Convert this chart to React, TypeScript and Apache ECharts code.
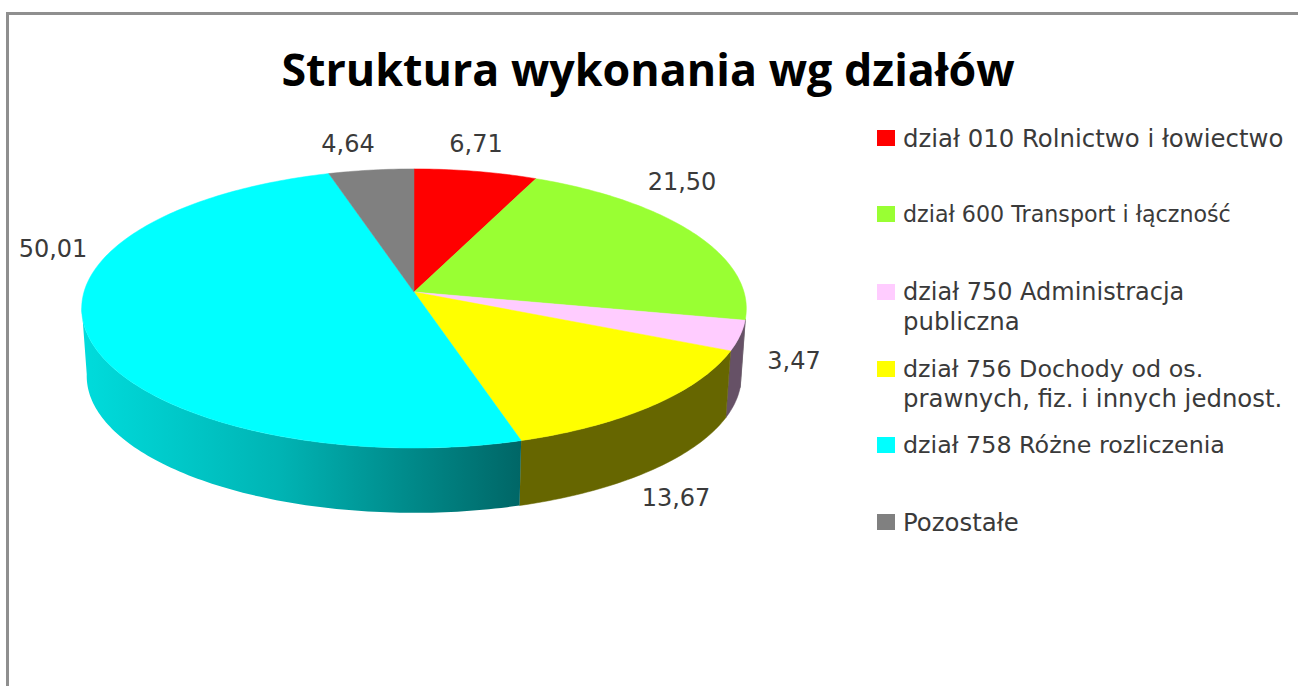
import React, { useEffect, useRef } from "react";
import * as echarts from "echarts";

const titleText = "Struktura wykonania wg działów";
const categories = [
  "dział 010 Rolnictwo i łowiectwo",
  "dział 600 Transport i łączność",
  "dział 750 Administracja",
  "dział 756 Dochody od os.",
  "dział 758 Różne rozliczenia",
  "Pozostałe",
];
const secondLines = ["", "", "publiczna", "prawnych, fiz. i innych jednost.", "", ""];
const values = [6.71, 21.5, 3.47, 13.67, 50.01, 4.64];
const topColors = ["#ff0000", "#99ff33", "#ffccff", "#ffff00", "#00ffff", "#808080"];

const FONT = "DejaVu Sans";
const TEXT_COLOR = "#3a3a3a";
const LEGEND_SIZE = 24.4;
const legendSizes = [24.4, 22.2, 24, 23.8, 23.8, 24.4];
const CX = 414;
const K = 0.118;
const topRim = { a: 330, b: 137.6, apexY: 292 };
const lowRim = { a: 325, b: 134.8, apexY: 360 };
const VISIBLE_FROM = 101;
const VISIBLE_TO = 264;
const labelAnchors = [
  [476, 144],
  [682, 182],
  [794, 361],
  [676, 498],
  [53, 249],
  [348, 144],
];
const legendCenters = [136, 213, 290, 367, 443, 520];
const LEGEND_LINE = 31;

const total = values.reduce((s, v) => s + v, 0);

function rimPoint(deg: number, rim: { a: number; b: number; apexY: number }) {
  const t = (deg * Math.PI) / 180;
  const s = Math.sin(t);
  const c = Math.cos(t);
  const d = 1 + K * c;
  return [CX + (rim.a * s) / d, rim.apexY - (rim.b * c) / d];
}

function arc(from: number, to: number, rim: { a: number; b: number; apexY: number }) {
  const pts: number[][] = [];
  const n = Math.max(2, Math.ceil(Math.abs(to - from)));
  for (let i = 0; i <= n; i++) pts.push(rimPoint(from + ((to - from) * i) / n, rim));
  return pts;
}

function sideFill(index: number): any {
  if (index === 4) {
    return new echarts.graphic.LinearGradient(0, 0, 1, 0, [
      { offset: 0, color: "#00dcdc" },
      { offset: 0.45, color: "#00b4b4" },
      { offset: 1, color: "#006666" },
    ]);
  }
  if (index === 3) return "#666600";
  if (index === 2) return "#665166";
  return "#666666";
}

const renderSlice = (params: any, api: any) => {
  const i = params.seriesIndex;
  const value = api.value(0);
  let before = 0;
  for (let j = 0; j < i; j++) before += values[j];
  const start = (before / total) * 360;
  const end = start + (value / total) * 360;
  const children: any[] = [];
  const a0 = Math.max(start, VISIBLE_FROM);
  const a1 = Math.min(end, VISIBLE_TO);
  if (a1 > a0) {
    const fill = sideFill(i);
    children.push({
      type: "polygon",
      z2: 1,
      shape: { points: [...arc(a0, a1, topRim), ...arc(a1, a0, lowRim)] },
      style: { fill, stroke: typeof fill === "string" ? fill : "none", lineWidth: 0.5 },
    });
  }
  children.push({
    type: "polygon",
    z2: 5,
    shape: { points: [[CX, topRim.apexY], ...arc(start, end, topRim)] },
    style: { fill: topColors[i], stroke: topColors[i], lineWidth: 0.5 },
  });
  children.push({
    type: "text",
    z2: 10,
    x: labelAnchors[i][0],
    y: labelAnchors[i][1],
    style: {
      text: value.toFixed(2).replace(".", ","),
      fontFamily: FONT,
      fontSize: 24,
      fill: TEXT_COLOR,
      align: "center",
      verticalAlign: "middle",
    },
  });
  return { type: "group", children };
};

export default function App() {
  const ref = useRef<HTMLDivElement>(null);
  useEffect(() => {
    const chart = echarts.init(ref.current!, null, { renderer: "svg" });
    const graphics: any[] = [
      { type: "rect", left: 6, top: 12, shape: { width: 3, height: 674 }, style: { fill: "#8f8f8f" }, silent: true },
      { type: "rect", left: 6, top: 12, shape: { width: 1292, height: 3 }, style: { fill: "#8f8f8f" }, silent: true },
      {
        type: "text",
        x: 648,
        y: 68,
        style: {
          text: titleText,
          fontFamily: "Open Sans",
          fontWeight: 700,
          fontSize: 44.8,
          fill: "#000000",
          align: "center",
          verticalAlign: "middle",
        },
      },
    ];
    secondLines.forEach((line, i) => {
      if (!line) return;
      graphics.push({
        type: "text",
        x: 903,
        y: legendCenters[i] + LEGEND_LINE,
        style: { text: line, fontFamily: FONT, fontSize: LEGEND_SIZE, fill: TEXT_COLOR, align: "left", verticalAlign: "middle" },
      });
    });
    chart.setOption({
      animation: false,
      backgroundColor: "#ffffff",
      legend: categories.map((name, i) => ({
        data: [name],
        left: 877,
        top: legendCenters[i] - 10,
        padding: 0,
        itemWidth: 18,
        itemHeight: 16,
        icon: "rect",
        selectedMode: false,
        textStyle: { fontFamily: FONT, fontSize: legendSizes[i], color: TEXT_COLOR, padding: [0, 0, 0, 3] },
      })),
      graphic: graphics,
      series: categories.map((name, i) => ({
        type: "custom",
        name,
        coordinateSystem: "none",
        itemStyle: { color: topColors[i] },
        data: [[values[i]]],
        renderItem: renderSlice,
        silent: true,
      })),
    });
    return () => chart.dispose();
  }, []);
  return <div ref={ref} style={{ position: "fixed", left: 0, top: 0, width: 1298, height: 686 }} />;
}
